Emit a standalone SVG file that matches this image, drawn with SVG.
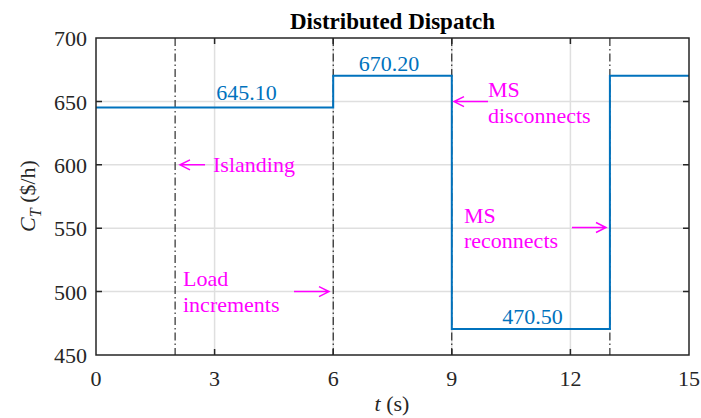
<svg xmlns="http://www.w3.org/2000/svg" width="701" height="418" viewBox="0 0 701 418">
<style>
.grid{stroke:#dfdfdf;stroke-width:1.5;fill:none}
.axis{stroke:#262626;stroke-width:1.5;fill:none}
.dd{stroke:#000;stroke-width:1;stroke-dasharray:8,3,1.5,3;fill:none}
.data{stroke:#0072BD;stroke-width:2;fill:none}
.arr{stroke:#FF00FF;stroke-width:1.5;fill:none}
text{font-family:'Liberation Serif','Times New Roman',Times,serif;font-size:22px}
</style>
<rect width="701" height="418" fill="#fff"/>
<g id="grid">
<path class="grid" d="M214.6 38V355M333.2 38V355M451.8 38V355M570.4 38V355M96 101.4H689M96 164.8H689M96 228.2H689M96 291.6H689"/>
</g>
<g id="connectors">
<path class="dd" d="M175.1 38V355M333.2 38V355M451.8 38V355M609.9 38V355"/>
<path class="data" d="M96 107.6H333.2V75.8H451.8V329H609.9V75.8H689"/>
<path class="arr" d="M205 164.8H180M190 159.8L180 164.8L190 169.8"/>
<path class="arr" d="M294 291.6H329M319 286.6L329 291.6L319 296.6"/>
<path class="arr" d="M488 101.6H454M464 96.6L454 101.6L464 106.6"/>
<path class="arr" d="M572 227.5H606M596 222.5L606 227.5L596 232.5"/>
</g>
<g id="axes">
<path class="axis" d="M96 38H689V355H96Z"/>
<path class="axis" d="M214.6 355v-6M333.2 355v-6M451.8 355v-6M570.4 355v-6M214.6 38v6M333.2 38v6M451.8 38v6M570.4 38v6M96 101.4h6M96 164.8h6M96 228.2h6M96 291.6h6M689 101.4h-6M689 164.8h-6M689 228.2h-6M689 291.6h-6"/>
</g>
<g id="yticks" fill="#262626" text-anchor="end">
<text x="87" y="46">700</text>
<text x="87" y="109.5">650</text>
<text x="87" y="172.8">600</text>
<text x="87" y="236.2">550</text>
<text x="87" y="299.6">500</text>
<text x="87" y="363">450</text>
</g>
<g id="xticks" fill="#262626" text-anchor="middle">
<text x="96" y="386">0</text>
<text x="214.6" y="386">3</text>
<text x="333.2" y="386">6</text>
<text x="451.8" y="386">9</text>
<text x="570.4" y="386">12</text>
<text x="689" y="386">15</text>
</g>
<g id="title"><text x="392.5" y="29" font-weight="bold" text-anchor="middle" fill="#000" style="font-size:23px">Distributed Dispatch</text></g>
<g id="xlabel"><text x="392" y="411" fill="#262626" text-anchor="middle"><tspan font-style="italic">t</tspan> (s)</text></g>
<g id="ylabel"><text transform="translate(35,196) rotate(-90)" fill="#262626" text-anchor="middle"><tspan font-style="italic">C</tspan><tspan font-style="italic" style="font-size:16px" dy="6">T</tspan><tspan dy="-6"> ($/h)</tspan></text></g>
<g id="values" fill="#0072BD" text-anchor="middle">
<text x="246.5" y="100">645.10</text>
<text x="389" y="71">670.20</text>
<text x="532.5" y="324">470.50</text>
</g>
<g id="labels" fill="#FF00FF">
<text x="213" y="172">Islanding</text>
<text x="183" y="286">Load</text>
<text x="183" y="312">increments</text>
<text x="488" y="97">MS</text>
<text x="488" y="123">disconnects</text>
<text x="464" y="223">MS</text>
<text x="464" y="248">reconnects</text>
</g>
</svg>
